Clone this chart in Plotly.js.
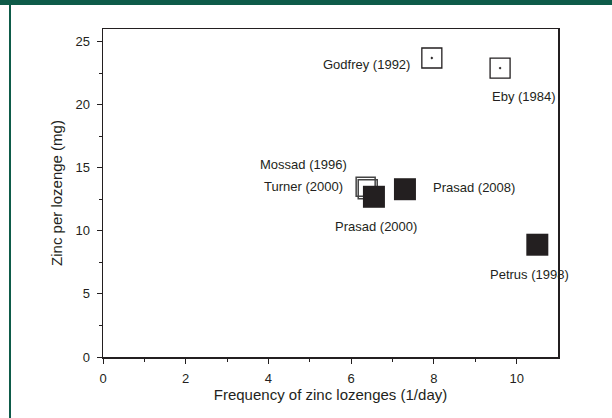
<!DOCTYPE html>
<html><head><meta charset="utf-8">
<script src="https://cdn.plot.ly/plotly-3.0.1.min.js"></script>
<style>
html,body{margin:0;padding:0;background:#fff;}
#wrap{position:relative;width:612px;height:418px;overflow:hidden;}
#chart{position:absolute;left:0;top:0;width:612px;height:418px;}
.gtop{position:absolute;left:0;top:0;width:612px;height:5px;background:#0e5b49;}
.gleft{position:absolute;left:9px;top:0;width:2px;height:418px;background:#0e5b49;}
</style></head>
<body><div id="wrap"><div id="chart"></div><div class="gtop"></div><div class="gleft"></div></div>
<script>
// Study labels
const studies = ["Godfrey (1992)", "Eby (1984)", "Mossad (1996)", "Turner (2000)", "Prasad (2000)", "Prasad (2008)", "Petrus (1998)"];
// Frequency of zinc lozenges (1/day)
const freq = [7.95, 9.6, 6.35, 6.4, 6.55, 7.3, 10.5];
// Zinc per lozenge (mg)
const zinc = [23.7, 22.9, 13.5, 13.3, 12.7, 13.3, 8.9];
// Marker groups: 0 = open with dot, 1 = open, 2 = filled
const group = [0, 0, 1, 1, 2, 2, 2];
// Label offsets in pixels relative to marker
const labAx = [-20, 24, -108, -106, 2, 26, -8];
const labAy = [6, 28, -22, -3, 30, -2, 30];
const labAnchor = ["right", "center", "left", "left", "center", "left", "center"];

const ink = "#231f20";
const fam = "Liberation Sans, Arial, sans-serif";
function pick(arr, g){ return arr.filter((_, i) => group[i] === g); }

const traces = [
  {x: pick(freq,0), y: pick(zinc,0), mode:"markers", type:"scatter",
   marker:{symbol:"square-open-dot", size:20, color:ink, line:{width:1.3, color:ink}}, hoverinfo:"skip"},
  {x: pick(freq,1), y: pick(zinc,1), mode:"markers", type:"scatter",
   marker:{symbol:"square-open", size:19, color:"#444", line:{width:1.5, color:"#444"}}, hoverinfo:"skip"},
  {x: pick(freq,2), y: pick(zinc,2), mode:"markers", type:"scatter",
   marker:{symbol:"square", size:22, color:ink, line:{width:0}}, hoverinfo:"skip"}
];

const annotations = studies.map((s, i) => ({
  x: freq[i], y: zinc[i], xref:"x", yref:"y", text: s, showarrow:true,
  arrowcolor:"rgba(0,0,0,0)", ax: labAx[i], ay: labAy[i], xanchor: labAnchor[i],
  font:{family:fam, size:13, color:ink}
}));

const axisCommon = {
  showline:true, linecolor:ink, linewidth:1.5, mirror:true, showgrid:false, zeroline:false,
  ticks:"outside", ticklen:5, tickwidth:1, tickcolor:ink,
  tickfont:{family:fam, size:13, color:ink}
};

const layout = {
  width:612, height:418, showlegend:false,
  paper_bgcolor:"#fff", plot_bgcolor:"#fff",
  margin:{l:103, r:54, t:29, b:61},
  xaxis: Object.assign({}, axisCommon, {
    range:[0,11], tickvals:[0,2,4,6,8,10], ticklabelstandoff:4,
    minor:{tickvals:[1,3,5,7,9], ticks:"outside", ticklen:3, tickcolor:ink},
    title:{text:"Frequency of zinc lozenges (1/day)", standoff:4, font:{family:fam, size:15, color:ink}}
  }),
  yaxis: Object.assign({}, axisCommon, {
    range:[0,26], tickvals:[0,5,10,15,20,25], ticklabelstandoff:4,
    minor:{tickvals:[2.5,7.5,12.5,17.5,22.5], ticks:"outside", ticklen:3, tickcolor:ink},
    title:{text:"Zinc per lozenge (mg)", standoff:9, font:{family:fam, size:15, color:ink}}
  }),
  annotations: annotations
};

Plotly.newPlot("chart", traces, layout, {staticPlot:true, displayModeBar:false});
</script></body></html>
